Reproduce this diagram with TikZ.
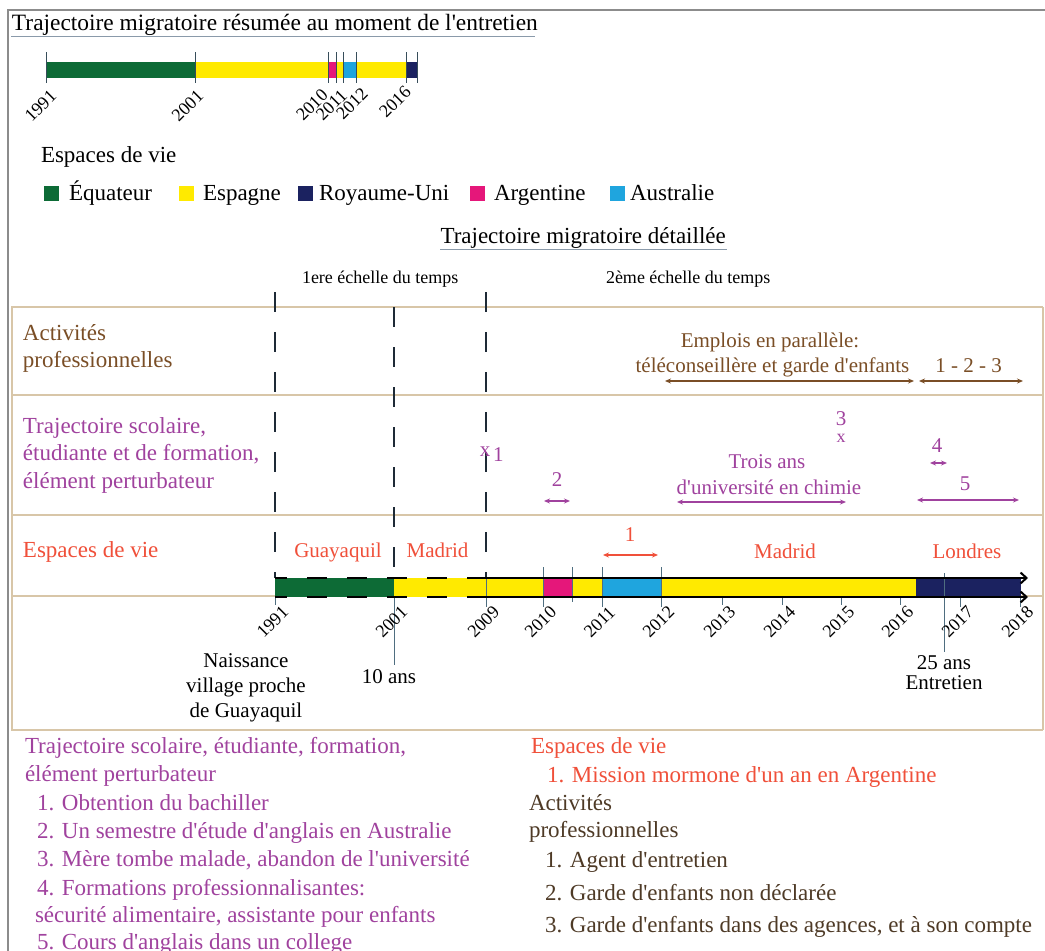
\documentclass[tikz,border=0pt]{standalone}
\usepackage{fontspec}
\setmainfont{Liberation Serif}[Ligatures=TeXOff]
\usetikzlibrary{arrows.meta}
\definecolor{cgreen}{HTML}{0D6B36}
\definecolor{cyellow}{HTML}{FFEA00}
\definecolor{cnavy}{HTML}{1B2260}
\definecolor{cpink}{HTML}{E5177A}
\definecolor{cblue}{HTML}{1FA5DE}
\definecolor{cbrown}{HTML}{7A4E26}
\definecolor{cdbrown}{HTML}{4E3A26}
\definecolor{cpurple}{HTML}{A0429E}
\definecolor{cred}{HTML}{F0503A}
\definecolor{ctan}{HTML}{D8C6A8}
\definecolor{ctick}{HTML}{4F6E80}
\definecolor{cframe}{HTML}{8C8C8C}
\definecolor{cdash}{HTML}{1E2A36}
\definecolor{cunder}{HTML}{8A9AAA}
\begin{document}
\begin{tikzpicture}[x=1pt,y=-1pt,
  every node/.style={inner sep=0pt, outer sep=0pt},
  f23/.style={font=\fontsize{23}{28}\selectfont},
  f21/.style={font=\fontsize{21}{25}\selectfont},
  f18/.style={font=\fontsize{18}{21}\selectfont},
  yrlab/.style={f18, rotate=45, anchor=center},
  tanline/.style={ctan, line width=1.6pt},
  vdash/.style={cdash, line width=1.5pt, dash pattern=on 20pt off 20pt},
  tickline/.style={ctick, line width=1pt},
  spanarrow/.style={line width=1.4pt, {Stealth[length=6pt,width=5pt]}-{Stealth[length=6pt,width=5pt]}},
  legsq/.style={minimum width=15pt, minimum height=15pt, inner sep=0pt},
  baredge/.style={black, line width=2.6pt},
]
\useasboundingbox (0,0) rectangle (1045,951);
\fill[white] (0,0) rectangle (1045,951);

% outer frame
\draw[cframe, line width=1.8pt] (8,951) -- (8,10) -- (1045,10);

% ---------- summary ----------
\node[f23, anchor=base west] (title1) at (12,30) {\fontsize{23.4}{28}\selectfont Trajectoire migratoire résumée au moment de l'entretien};
\draw[cunder, line width=0.9pt] (11,36) -- (535,36);

\fill[cgreen] (46.5,62) rectangle (195,78);
\fill[cyellow] (195,62) rectangle (328,78);
\fill[cpink] (328,62) rectangle (336,78);
\fill[cyellow] (336,62) rectangle (343,78);
\fill[cblue] (343,62) rectangle (356,78);
\fill[cyellow] (356,62) rectangle (406,78);
\fill[cnavy] (406,62) rectangle (417,78);
\foreach \xx in {46.5,195,328,336,343,356,406,417}
  \draw[ctick!70!black, line width=1pt] (\xx,52) -- (\xx,83);
\node[yrlab] (s1991) at (40.5,106) {1991};
\node[yrlab] (s2001) at (187.5,106) {2001};
\node[yrlab] (s2010) at (312,105) {2010};
\node[yrlab] (s2011) at (331.5,105) {2011};
\node[yrlab] (s2012) at (352,103.5) {2012};
\node[yrlab] (s2016) at (395,102) {2016};

\node[f23, anchor=base west] (leghead) at (41,162) {Espaces de vie};
\node[legsq, fill=cgreen] (sq1) at (51,193.5) {};
\node[f23, anchor=base west] (lg1) at (69,200) {Équateur};
\node[legsq, fill=cyellow] (sq2) at (186,193.5) {};
\node[f23, anchor=base west] (lg2) at (203,200) {Espagne};
\node[legsq, fill=cnavy] (sq3) at (305,193.5) {};
\node[f23, anchor=base west] (lg3) at (319,200) {Royaume-Uni};
\node[legsq, fill=cpink] (sq4) at (477.5,193.5) {};
\node[f23, anchor=base west] (lg4) at (494,200) {Argentine};
\node[legsq, fill=cblue] (sq5) at (617,193.5) {};
\node[f23, anchor=base west] (lg5) at (630,200) {Australie};

% ---------- detailed ----------
\node[f23, anchor=base west] (title2) at (440.5,243) {Trajectoire migratoire détaillée};
\draw[cunder, line width=0.9pt] (440,249) -- (727,249);
\node[f18, anchor=base west] (sc1) at (302,283) {1ere échelle du temps};
\node[f18, anchor=base west] (sc2) at (606,283) {2ème échelle du temps};

% table
\foreach \yy in {307,395,515,596,730}
  \draw[tanline] (11,\yy) -- (1043,\yy);
\draw[tanline] (12,307) -- (12,730);
\draw[tanline] (1043,307) -- (1043,730);

% row labels
\node[f23, text=cbrown, anchor=base west] (r1a) at (23,340) {Activités};
\node[f23, text=cbrown, anchor=base west] (r1b) at (23,367) {professionnelles};
\node[f23, text=cpurple, anchor=base west] (r2a) at (23,433) {Trajectoire scolaire,};
\node[f23, text=cpurple, anchor=base west] (r2b) at (23,460) {étudiante et de formation,};
\node[f23, text=cpurple, anchor=base west] (r2c) at (23,488) {élément perturbateur};
\node[f23, text=cred, anchor=base west] (r3a) at (23,557) {Espaces de vie};

% dashed scale separators
\draw[vdash] (275,292) -- (275,578);
\draw[vdash] (394,307) -- (394,578);
\draw[vdash] (486,292) -- (486,578);

% activities row
\node[f21, text=cbrown, anchor=base] (emp1) at (770,347) {Emplois en parallèle:};
\node[f21, text=cbrown, anchor=base] (emp2) at (772.5,372) {téléconseillère et garde d'enfants};
\node[f21, text=cbrown, anchor=base] (emp3) at (968.5,372) {1 - 2 - 3};
\coordinate (ea1) at (665,381); \coordinate (ea2) at (914,381);
\coordinate (eb1) at (919,381); \coordinate (eb2) at (1023,381);
\draw[spanarrow, cbrown] (ea1) -- (ea2);
\draw[spanarrow, cbrown] (eb1) -- (eb2);

% school row
\node[f21, text=cpurple, anchor=center] (x1) at (485,452) {x};
\node[f21, text=cpurple, anchor=base west] (n1) at (493,461) {1};
\node[f21, text=cpurple, anchor=base] (n2) at (557,486) {2};
\coordinate (p2a) at (544,501); \coordinate (p2b) at (570,501);
\draw[spanarrow, cpurple, line width=1.3pt] (p2a) -- (p2b);
\node[f21, text=cpurple, anchor=base] (n3) at (841,425) {3};
\node[f18, text=cpurple, anchor=center] (x3) at (841,438) {x};
\node[f21, text=cpurple, anchor=base] (tr1) at (767,468) {Trois ans};
\node[f21, text=cpurple, anchor=base] (tr2) at (769,494) {d'université en chimie};
\coordinate (p3a) at (677,502); \coordinate (p3b) at (846,502);
\draw[spanarrow, cpurple, line width=1.3pt] (p3a) -- (p3b);
\node[f21, text=cpurple, anchor=base] (n4) at (937,452) {4};
\coordinate (p4a) at (930,463); \coordinate (p4b) at (947,463);
\draw[spanarrow, cpurple, line width=1.3pt] (p4a) -- (p4b);
\node[f21, text=cpurple, anchor=base] (n5) at (965,490) {5};
\coordinate (p5a) at (917,500); \coordinate (p5b) at (1019,500);
\draw[spanarrow, cpurple, line width=1.3pt] (p5a) -- (p5b);

% living spaces row
\node[f21, text=cred, anchor=base] (gq) at (338,557) {Guayaquil};
\node[f21, text=cred, anchor=base] (md1) at (437.5,557) {Madrid};
\node[f21, text=cred, anchor=base] (m1) at (630,541) {1};
\coordinate (ra) at (603,555); \coordinate (rb) at (658,555);
\draw[spanarrow, cred, line width=1.2pt] (ra) -- (rb);
\node[f21, text=cred, anchor=base] (md2) at (785,558) {Madrid};
\node[f21, text=cred, anchor=base] (ld) at (967,558) {Londres};

% bar fills
\fill[cgreen] (275,578) rectangle (394,597);
\fill[cyellow] (394,578) rectangle (543,597);
\fill[cpink] (543,578) rectangle (572,597);
\fill[cyellow] (572,578) rectangle (602,597);
\fill[cblue] (602,578) rectangle (661,597);
\fill[cyellow] (661,578) rectangle (916,597);
\fill[cnavy] (916,578) rectangle (1021,597);

% ticks
\draw[tickline] (275,597) -- (275,605);
\draw[tickline] (394,597) -- (394,665);
\draw[tickline] (486,578) -- (486,607);
\foreach \xx in {543,602,661} \draw[tickline] (\xx,567) -- (\xx,607);
\draw[tickline] (572,567) -- (572,602);
\foreach \xx in {722,782,841,900} \draw[tickline] (\xx,597) -- (\xx,605);
\foreach \xx in {960,1020} \draw[tickline] (\xx,597) -- (\xx,607);
\draw[tickline] (944,573) -- (944,652);

% bar edges
\coordinate (bt0) at (275,578); \coordinate (bt1) at (486,578); \coordinate (bt2) at (1028,578);
\coordinate (bb0) at (275,597); \coordinate (bb1) at (486,597); \coordinate (bb2) at (1028,597);
\draw[baredge, dash pattern=on 20pt off 20pt, dash phase=8pt] (bt0) -- (bt1);
\draw[baredge, dash pattern=on 20pt off 20pt, dash phase=8pt] (bb0) -- (bb1);
\draw[baredge, -{Straight Barb[length=6pt,width=11pt,line width=2pt]}] (bt1) -- (bt2);
\draw[baredge, -{Straight Barb[length=6pt,width=11pt,line width=2pt]}] (bb1) -- (bb2);

% year labels
\foreach \xx/\yr in {275/1991,394/2001,486/2009,543/2010,602/2011,661/2012,722/2013,782/2014,841/2015,900/2016,960/2017,1020/2018}
  \node[yrlab] (y\yr) at (\xx-2.5,622) {\yr};

% below axis
\node[f21, anchor=base] (nais1) at (246,667) {Naissance};
\node[f21, anchor=base] (nais2) at (246,692) {village proche};
\node[f21, anchor=base] (nais3) at (246,717) {de Guayaquil};
\node[f21, anchor=base] (ten) at (389,683) {10 ans};
\node[f21, anchor=base] (e25) at (944,669) {25 ans};
\node[f21, anchor=base] (ent) at (944,689) {Entretien};

% bottom legend, left
\node[f23, text=cpurple, anchor=base west] (b1) at (25,753) {Trajectoire scolaire, étudiante, formation,};
\node[f23, text=cpurple, anchor=base west] (b2) at (25,781) {élément perturbateur};
\node[f23, text=cpurple, anchor=base west] (b3) at (37,810) {1. Obtention du bachiller};
\node[f23, text=cpurple, anchor=base west] (b4) at (37,838) {2. Un semestre d'étude d'anglais en Australie};
\node[f23, text=cpurple, anchor=base west] (b5) at (37,866) {3. Mère tombe malade, abandon de l'université};
\node[f23, text=cpurple, anchor=base west] (b6) at (37,895) {4. Formations professionnalisantes:};
\node[f23, text=cpurple, anchor=base west] (b7) at (35,922) {sécurité alimentaire, assistante pour enfants};
\node[f23, text=cpurple, anchor=base west] (b8) at (37,949) {5. Cours d'anglais dans un college};

% bottom legend, right
\node[f23, text=cred, anchor=base west] (c1) at (531,753) {Espaces de vie};
\node[f23, text=cred, anchor=base west] (c2) at (547,782) {1. Mission mormone d'un an en Argentine};
\node[f23, text=cdbrown, anchor=base west] (c3) at (529,810) {Activités};
\node[f23, text=cdbrown, anchor=base west] (c4) at (529,837) {professionnelles};
\node[f23, text=cdbrown, anchor=base west] (c5) at (545,867) {1. Agent d'entretien};
\node[f23, text=cdbrown, anchor=base west] (c6) at (545,900) {2. Garde d'enfants non déclarée};
\node[f23, text=cdbrown, anchor=base west] (c7) at (545,932) {3. Garde d'enfants dans des agences, et à son compte};
\end{tikzpicture}
\end{document}
